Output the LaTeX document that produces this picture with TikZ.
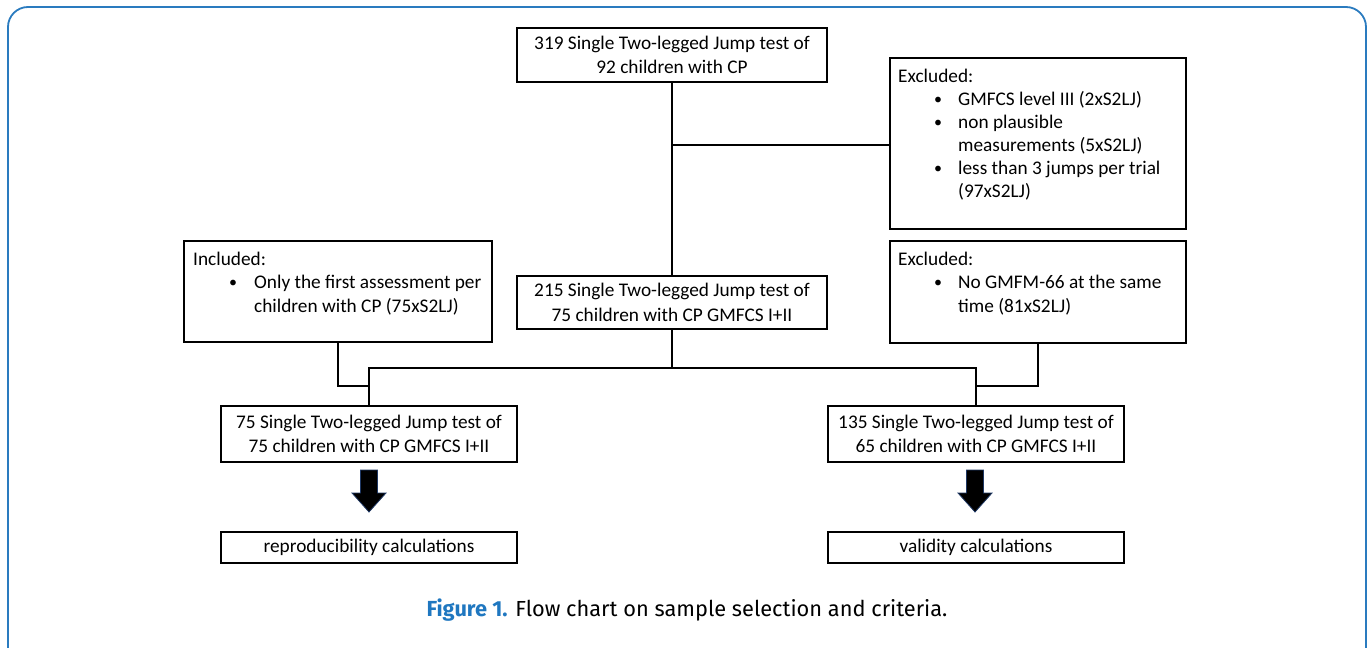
\documentclass[tikz,border=0pt]{standalone}
\usepackage{fontspec}
\setmainfont{Carlito}
\newfontfamily\capfont{Fira Sans}
\definecolor{frameblue}{RGB}{42,123,191}
\definecolor{capblue}{RGB}{31,119,192}
\definecolor{arrowedge}{RGB}{31,56,100}
\begin{document}
\begin{tikzpicture}[x=1pt,y=-1pt,
  box/.style={draw=black,line width=1.6pt,rectangle,inner sep=0pt,align=center,
    font=\fontsize{19.3}{24.5}\selectfont},
  txt/.style={inner sep=0pt,anchor=base west,font=\fontsize{19.3}{24}\selectfont},
  bul/.style={inner sep=0pt,anchor=base,font=\fontsize{16}{24}\selectfont},
  link/.style={line width=1.6pt,draw=black},
  blockarrow/.style={fill=black,draw=arrowedge,line width=0.8pt,line join=miter}]
\useasboundingbox (0,0) rectangle (1371,648);
\draw[frameblue,line width=1.8pt,rounded corners=20pt] (8,7) rectangle (1366,668);

% boxes
\node[box,minimum width=310,minimum height=54] (top) at (672,55)
  {319 Single Two-legged Jump test of\\92 children with CP};
\node[box,minimum width=296,minimum height=171] (exa) at (1038,143.5) {};
\node[box,minimum width=308,minimum height=101] (inc) at (338,291.5) {};
\node[box,minimum width=310,minimum height=53] (mid) at (672,302.5)
  {215 Single Two-legged Jump test of\\75 children with CP GMFCS I+II};
\node[box,minimum width=296,minimum height=102] (exb) at (1038,292) {};
\node[box,minimum width=296,minimum height=56] (lb) at (369,434)
  {75 Single Two-legged Jump test of\\75 children with CP GMFCS I+II};
\node[box,minimum width=296,minimum height=56] (rb) at (976,434)
  {135 Single Two-legged Jump test of\\65 children with CP GMFCS I+II};
\node[box,minimum width=296,minimum height=31] (rep) at (369,547.5)
  {reproducibility calculations};
\node[box,minimum width=296,minimum height=31] (val) at (976,547.5)
  {validity calculations};

% texts in excluded box 1
\node[txt] (exat) at (898,82) {Excluded:};
\node[bul] (exab1) at (938,104) {•};
\node[txt] (exa1) at (958,105) {GMFCS level III (2xS2LJ)};
\node[bul] (exab2) at (938,127) {•};
\node[txt] (exa2) at (958,128) {non plausible};
\node[txt] (exa3) at (958,151) {measurements (5xS2LJ)};
\node[bul] (exab3) at (938,173) {•};
\node[txt] (exa4) at (958,174) {less than 3 jumps per trial};
\node[txt] (exa5) at (958,197) {(97xS2LJ)};

% texts in included box
\node[txt] (inct) at (193,265) {Included:};
\node[bul] (incb1) at (233,287) {•};
\node[txt] (inc1) at (254,288) {Only the first assessment per};
\node[txt] (inc2) at (254,312) {children with CP (75xS2LJ)};

% texts in excluded box 2
\node[txt] (exbt) at (898,265) {Excluded:};
\node[bul] (exbb1) at (938,287) {•};
\node[txt] (exb1) at (958,288) {No GMFM-66 at the same};
\node[txt] (exb2) at (958,312) {time (81xS2LJ)};

% connectors
\coordinate (j1) at (672,145);
\coordinate (j2) at (672,368);
\draw[link] (top.south) -- (mid.north);
\draw[link] (j1) -- (exa.west |- j1);
\draw[link] (mid.south) -- (j2);
\draw[link] (lb.north) -- (lb.north |- j2) -- (rb.north |- j2) -- (rb.north);
\draw[link] (inc.south) -- (inc.south |- 0,386) -- (lb.north |- 0,386);
\draw[link] (exb.south) -- (exb.south |- 0,386) -- (rb.north |- 0,386);

% block arrows
\draw[blockarrow] (360.5,470) -- (377.5,470) -- (377.5,493) -- (386,493) -- (369,512)
  -- (352,493) -- (360.5,493) -- cycle;
\draw[blockarrow] (966.5,470) -- (983.5,470) -- (983.5,493) -- (992,493) -- (975,512)
  -- (958,493) -- (966.5,493) -- cycle;

% caption
\node[inner sep=0pt,font=\capfont\fontsize{21.8}{26}\selectfont] (cap) at (687,610)
  {\textcolor{capblue}{\bfseries Figure 1.} Flow chart on sample selection and criteria.};
\end{tikzpicture}
\end{document}
